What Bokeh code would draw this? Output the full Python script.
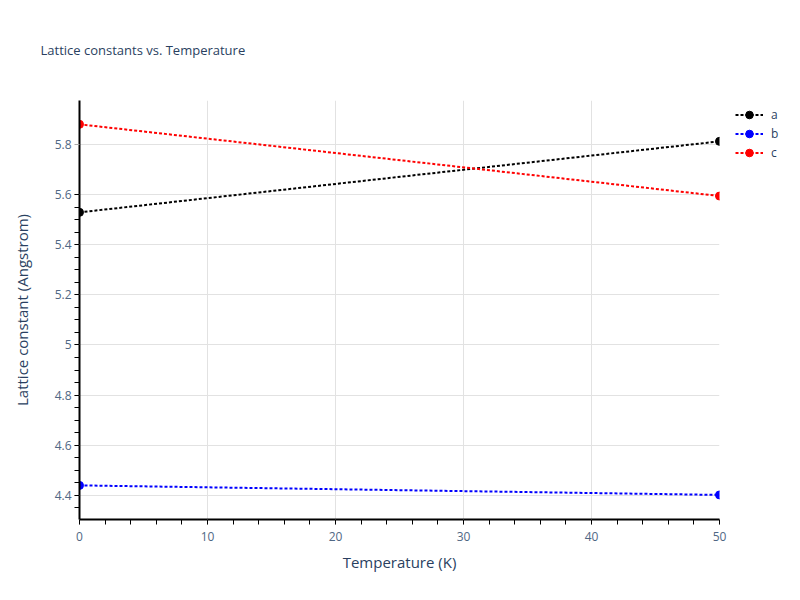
from bokeh.plotting import figure
from bokeh.models import Range1d, FixedTicker, CustomJSTickFormatter, Legend, LegendItem
from bokeh.embed import file_html
from bokeh.resources import INLINE

# data
temperature = [0, 50]
a_vals = [5.529, 5.812]
b_vals = [4.440, 4.402]
c_vals = [5.880, 5.594]

x_ticks = [0, 10, 20, 30, 40, 50]
x_minor = [t for t in range(0, 51, 2)]
y_ticks = [4.4, 4.6, 4.8, 5.0, 5.2, 5.4, 5.6, 5.8]
y_minor = [round(4.35 + 0.05 * i, 2) for i in range(0, 13 * 2)]

font = "Open Sans"
text_col = "#2a3f5f"
tick_col = "#506784"

p = figure(frame_width=640, frame_height=419, output_backend="svg", toolbar_location=None,
           x_range=Range1d(0, 50), y_range=Range1d(4.304, 5.975),
           title="Lattice constants vs. Temperature",
           x_axis_label="Temperature (K)", y_axis_label="Lattice constant (Angstrom)",
           min_border_left=79, min_border_right=81, min_border_top=100, min_border_bottom=81)
p.outline_line_color = None
p.background_fill_color = "white"
p.border_fill_color = "white"

p.title.text_font = font
p.title.text_font_size = "13px"
p.title.text_font_style = "normal"
p.title.text_color = text_col
p.title.vertical_align = "top"
p.title.standoff = 79
p.title.offset = -39

for ax in (p.xaxis[0], p.yaxis[0]):
    ax.axis_line_color = "black"
    ax.axis_line_width = 2
    ax.major_tick_line_color = "#aaaaaa"
    ax.major_tick_out = 5
    ax.major_tick_in = 0
    ax.minor_tick_line_color = "black"
    ax.minor_tick_out = 5
    ax.minor_tick_in = 0
    ax.major_label_text_font = font
    ax.major_label_text_font_size = "12px"
    ax.major_label_text_color = tick_col
    ax.major_label_standoff = 3
    ax.axis_label_text_font = font
    ax.axis_label_text_font_size = "15px"
    ax.axis_label_text_font_style = "normal"
    ax.axis_label_text_color = text_col

p.xaxis.ticker = FixedTicker(ticks=x_ticks, minor_ticks=x_minor)
p.yaxis.ticker = FixedTicker(ticks=y_ticks, minor_ticks=y_minor)
p.yaxis.formatter = CustomJSTickFormatter(code="return Number(tick.toFixed(2)).toString();")
p.xaxis.major_label_standoff = 7
p.xaxis.axis_label_standoff = 8
p.yaxis.axis_label_standoff = 20

p.xgrid.grid_line_color = "#e2e2e2"
p.ygrid.grid_line_color = "#e2e2e2"
p.xgrid.grid_line_width = 1
p.ygrid.grid_line_width = 1

items = []
for name, vals, col in (("a", a_vals, "black"), ("b", b_vals, "blue"), ("c", c_vals, "red")):
    ln = p.line(temperature, vals, line_color=col, line_width=2, line_dash="3 2")
    sc = p.scatter(temperature, vals, size=8, color=col)
    items.append(LegendItem(label=name, renderers=[ln, sc]))

legend = Legend(items=items, location=(16, 357), padding=2, margin=0, spacing=0,
                label_height=19, glyph_height=19, glyph_width=28, label_standoff=8,
                label_text_font=font, label_text_font_size="12px", label_text_color=text_col,
                border_line_color=None, background_fill_alpha=0)
p.add_layout(legend, "right")

open("out.html", "w").write(file_html(p, INLINE))
